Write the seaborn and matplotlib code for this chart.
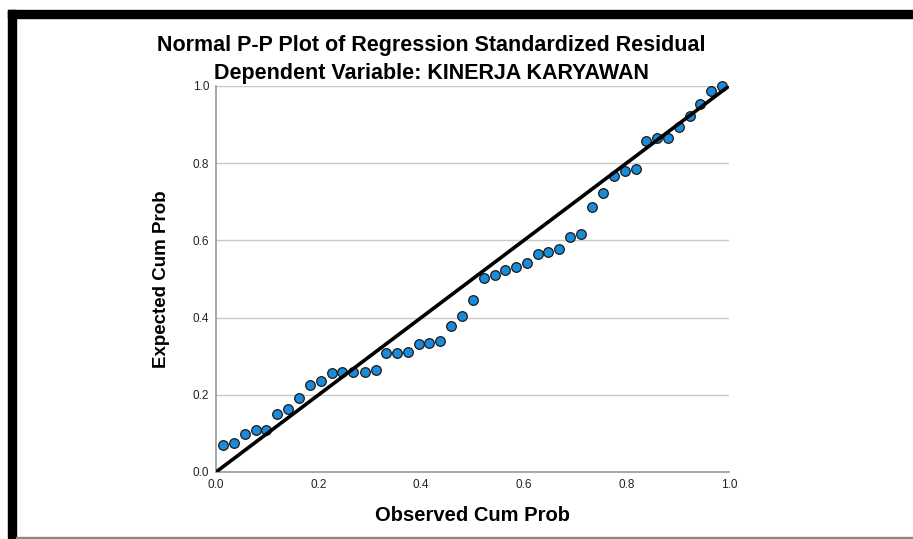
import matplotlib
matplotlib.use("Agg")
import matplotlib.pyplot as plt
import seaborn as sns
from matplotlib.patches import Rectangle

# Data
observed = [0.014, 0.035, 0.056, 0.077, 0.097, 0.119, 0.141, 0.162, 0.184, 0.205,
            0.226, 0.246, 0.268, 0.290, 0.311, 0.331, 0.352, 0.374, 0.395, 0.416,
            0.437, 0.458, 0.479, 0.501, 0.522, 0.543, 0.563, 0.584, 0.606, 0.627,
            0.647, 0.669, 0.691, 0.712, 0.732, 0.754, 0.776, 0.797, 0.819, 0.838,
            0.859, 0.881, 0.903, 0.924, 0.944, 0.965, 0.986]
expected = [0.070, 0.074, 0.098, 0.109, 0.110, 0.151, 0.164, 0.192, 0.225, 0.236,
            0.256, 0.260, 0.259, 0.259, 0.265, 0.307, 0.309, 0.310, 0.331, 0.335,
            0.340, 0.378, 0.404, 0.445, 0.503, 0.510, 0.524, 0.532, 0.541, 0.566,
            0.569, 0.577, 0.609, 0.617, 0.687, 0.722, 0.766, 0.779, 0.784, 0.857,
            0.865, 0.864, 0.895, 0.923, 0.953, 0.987, 1.000]
diag_x = [0.0, 1.0]
diag_y = [0.0, 1.0]
tick_vals = [0.0, 0.2, 0.4, 0.6, 0.8, 1.0]
tick_labels = ["0.0", "0.2", "0.4", "0.6", "0.8", "1.0"]

sns.set_style("white")
plt.rcParams['font.family'] = ['Liberation Sans', 'DejaVu Sans']
plt.rcParams['text.color'] = 'black'
plt.rcParams['axes.labelcolor'] = 'black'

fig = plt.figure(figsize=(9.13, 5.39), dpi=100)
ax = fig.add_axes([216 / 913, 1 - 472 / 539, 513 / 913, 386 / 539])

sns.scatterplot(x=observed, y=expected, ax=ax, s=48, color="#1b8ad8",
                edgecolor="#1a1a1a", linewidth=0.9, zorder=3, clip_on=False)
sns.lineplot(x=diag_x, y=diag_y, ax=ax, color="black", linewidth=2.6, zorder=4)

ax.set_xlim(0, 1)
ax.set_ylim(0, 1)
ax.set_xticks(tick_vals)
ax.set_xticklabels(tick_labels)
ax.set_yticks(tick_vals)
ax.set_yticklabels(tick_labels)
ax.tick_params(length=0, labelsize=8.5, labelcolor="#222222", pad=5)
ax.yaxis.grid(True, color="#c8c8c8", linewidth=1)
ax.xaxis.grid(False)
for side in ["top", "right"]:
    ax.spines[side].set_visible(False)
for side in ["left", "bottom"]:
    ax.spines[side].set_color("#999999")
    ax.spines[side].set_linewidth(1.2)

ax.set_xlabel("Observed Cum Prob", fontsize=14.5, fontweight="bold", labelpad=11)
ax.set_ylabel("Expected Cum Prob", fontsize=13.5, fontweight="bold", labelpad=16)

fig.text(431 / 913, 1 - 45 / 539, "Normal P-P Plot of Regression Standardized Residual",
         ha="center", va="center", fontsize=15.5, fontweight="bold")
fig.text(431 / 913, 1 - 73 / 539, "Dependent Variable: KINERJA KARYAWAN",
         ha="center", va="center", fontsize=15.5, fontweight="bold")

# frame of the pasted picture
fig.patches.append(Rectangle((8 / 913, 0), 8 / 913, 1 - 10 / 539,
                             transform=fig.transFigure, color="black", zorder=0))
fig.patches.append(Rectangle((8 / 913, 1 - 18 / 539), 1, 8 / 539,
                             transform=fig.transFigure, color="black", zorder=0))
fig.patches.append(Rectangle((16 / 913, 0), 1, 2 / 539,
                             transform=fig.transFigure, color="#888888", zorder=0))

fig.savefig("out.png", dpi=100)
